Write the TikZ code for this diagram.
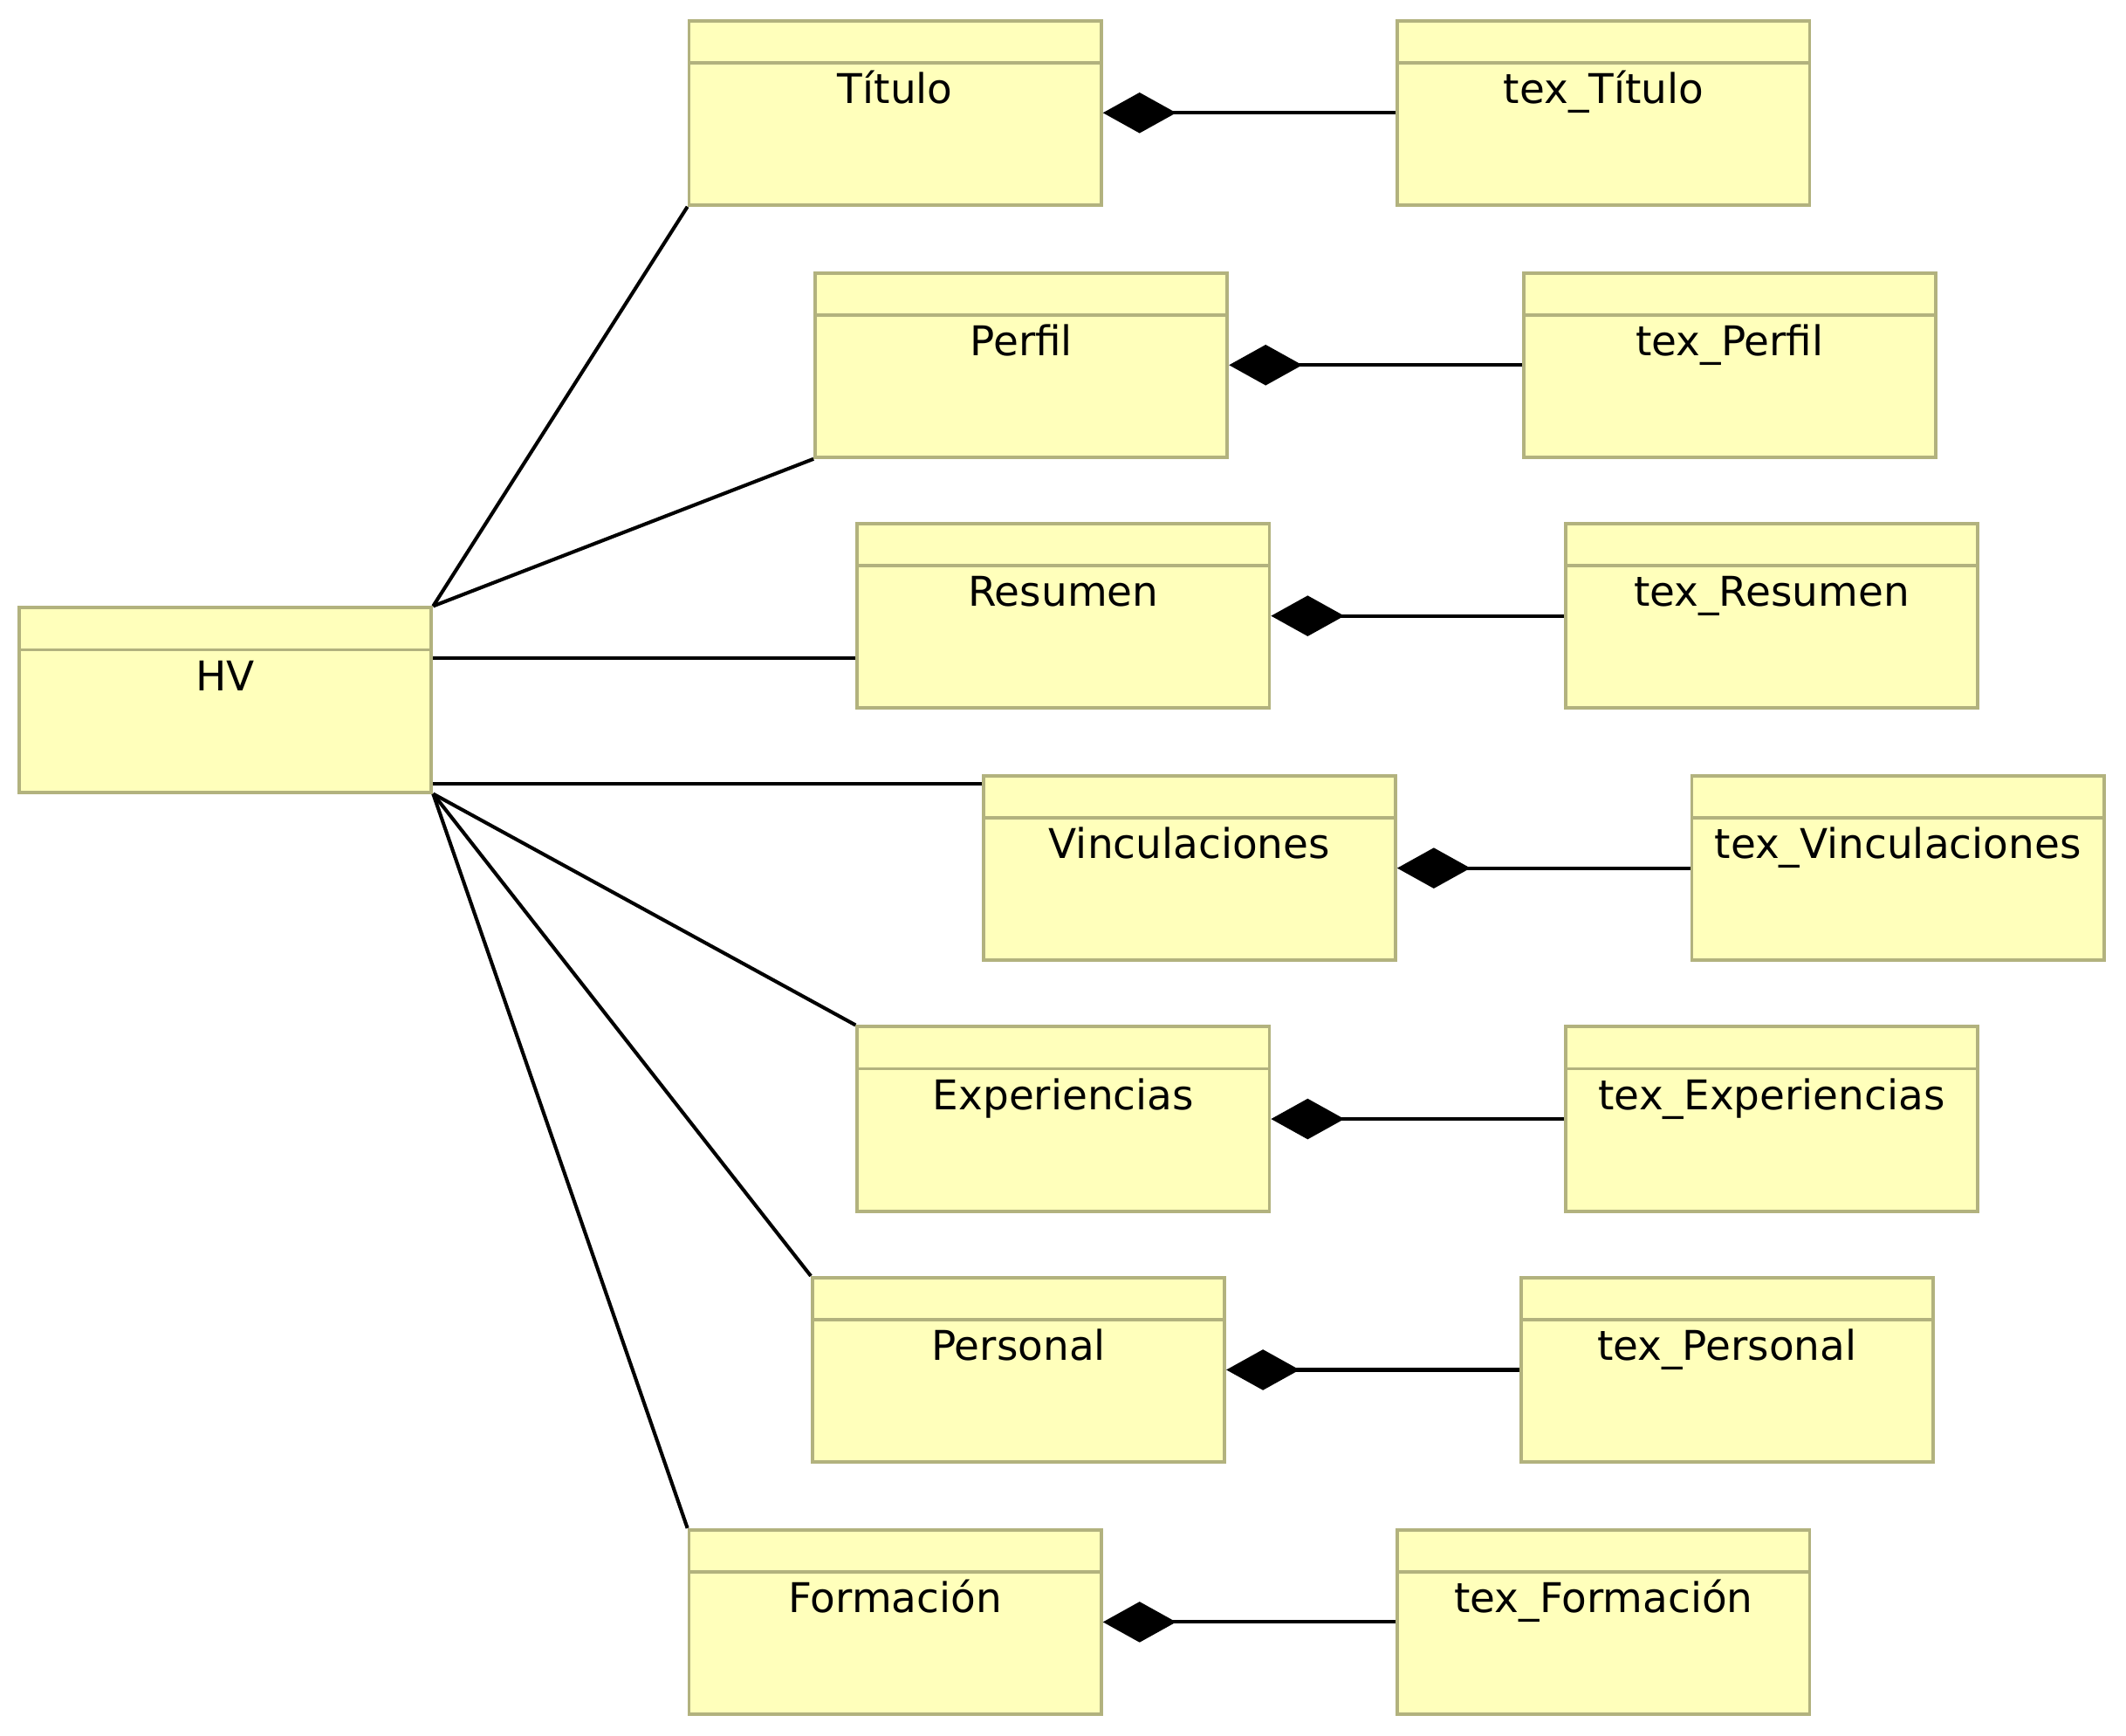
\documentclass[tikz,border=0pt]{standalone}
\usepackage{fontspec}
\setmainfont{DejaVu Sans}
\usetikzlibrary{positioning,arrows.meta}
\definecolor{fondo}{RGB}{255,255,187}
\definecolor{borde}{RGB}{178,178,126}

\tikzset{
  clase/.style={draw=borde, fill=fondo, line width=0.7pt, inner sep=0pt,
    minimum width=3.04cm, minimum height=1.36cm,
    text height=0.2cm, text depth=0.34cm, font=\fontsize{8.6}{10}\selectfont,
    path picture={\draw[borde, line width=0.7pt]
      ([yshift=-3.1mm]path picture bounding box.north west) --
      ([yshift=-3.1mm]path picture bounding box.north east);}},
  asoc/.style={line width=0.75pt},
  compo/.style={{Diamond[length=5.4mm,width=3mm]}-, line width=0.75pt}
}

\begin{document}
\begin{tikzpicture}
  \useasboundingbox (0,0) rectangle (15.68,-12.80);

  \node[clase, anchor=north west] (hv) at (0.13,-4.47) {HV};

  \node[clase, anchor=north west] (titulo) at (5.07,-0.14) {Título};
  \node[clase, anchor=north west] (perfil) at (6.00,-2.00) {Perfil};
  \node[clase, anchor=north west] (resumen) at (6.31,-3.85) {Resumen};
  \node[clase, anchor=north west] (vinc) at (7.24,-5.71) {Vinculaciones};
  \node[clase, anchor=north west] (exper) at (6.31,-7.56) {Experiencias};
  \node[clase, anchor=north west] (personal) at (5.98,-9.41) {Personal};
  \node[clase, anchor=north west] (formacion) at (5.07,-11.27) {Formación};

  \node[clase, right=2.16cm of titulo] (textitulo) {tex\_Título};
  \node[clase, right=2.16cm of perfil] (texperfil) {tex\_Perfil};
  \node[clase, right=2.16cm of resumen] (texresumen) {tex\_Resumen};
  \node[clase, right=2.16cm of vinc] (texvinc) {tex\_Vinculaciones};
  \node[clase, right=2.16cm of exper] (texexper) {tex\_Experiencias};
  \node[clase, right=2.16cm of personal] (texpersonal) {tex\_Personal};
  \node[clase, right=2.16cm of formacion] (texformacion) {tex\_Formación};

  % HV con cada seccion
  \path (hv.north east) -- (resumen.south west) coordinate[pos=0.5] (mres);
  \path (hv.south east) -- (vinc.north west) coordinate[pos=0.5] (mvinc);
  \draw[asoc] (hv.north east) -- (titulo.south west);
  \draw[asoc] (hv.north east) -- (perfil.south west);
  \draw[asoc] (hv.east |- mres) -- (resumen.west |- mres);
  \draw[asoc] (hv.east |- mvinc) -- (vinc.west |- mvinc);
  \draw[asoc] (hv.south east) -- (exper.north west);
  \draw[asoc] (hv.south east) -- (personal.north west);
  \draw[asoc] (hv.south east) -- (formacion.north west);

  % composiciones
  \draw[compo] (titulo.east) -- (textitulo.west);
  \draw[compo] (perfil.east) -- (texperfil.west);
  \draw[compo] (resumen.east) -- (texresumen.west);
  \draw[compo] (vinc.east) -- (texvinc.west);
  \draw[compo] (exper.east) -- (texexper.west);
  \draw[compo] (personal.east) -- (texpersonal.west);
  \draw[compo] (formacion.east) -- (texformacion.west);
\end{tikzpicture}
\end{document}
